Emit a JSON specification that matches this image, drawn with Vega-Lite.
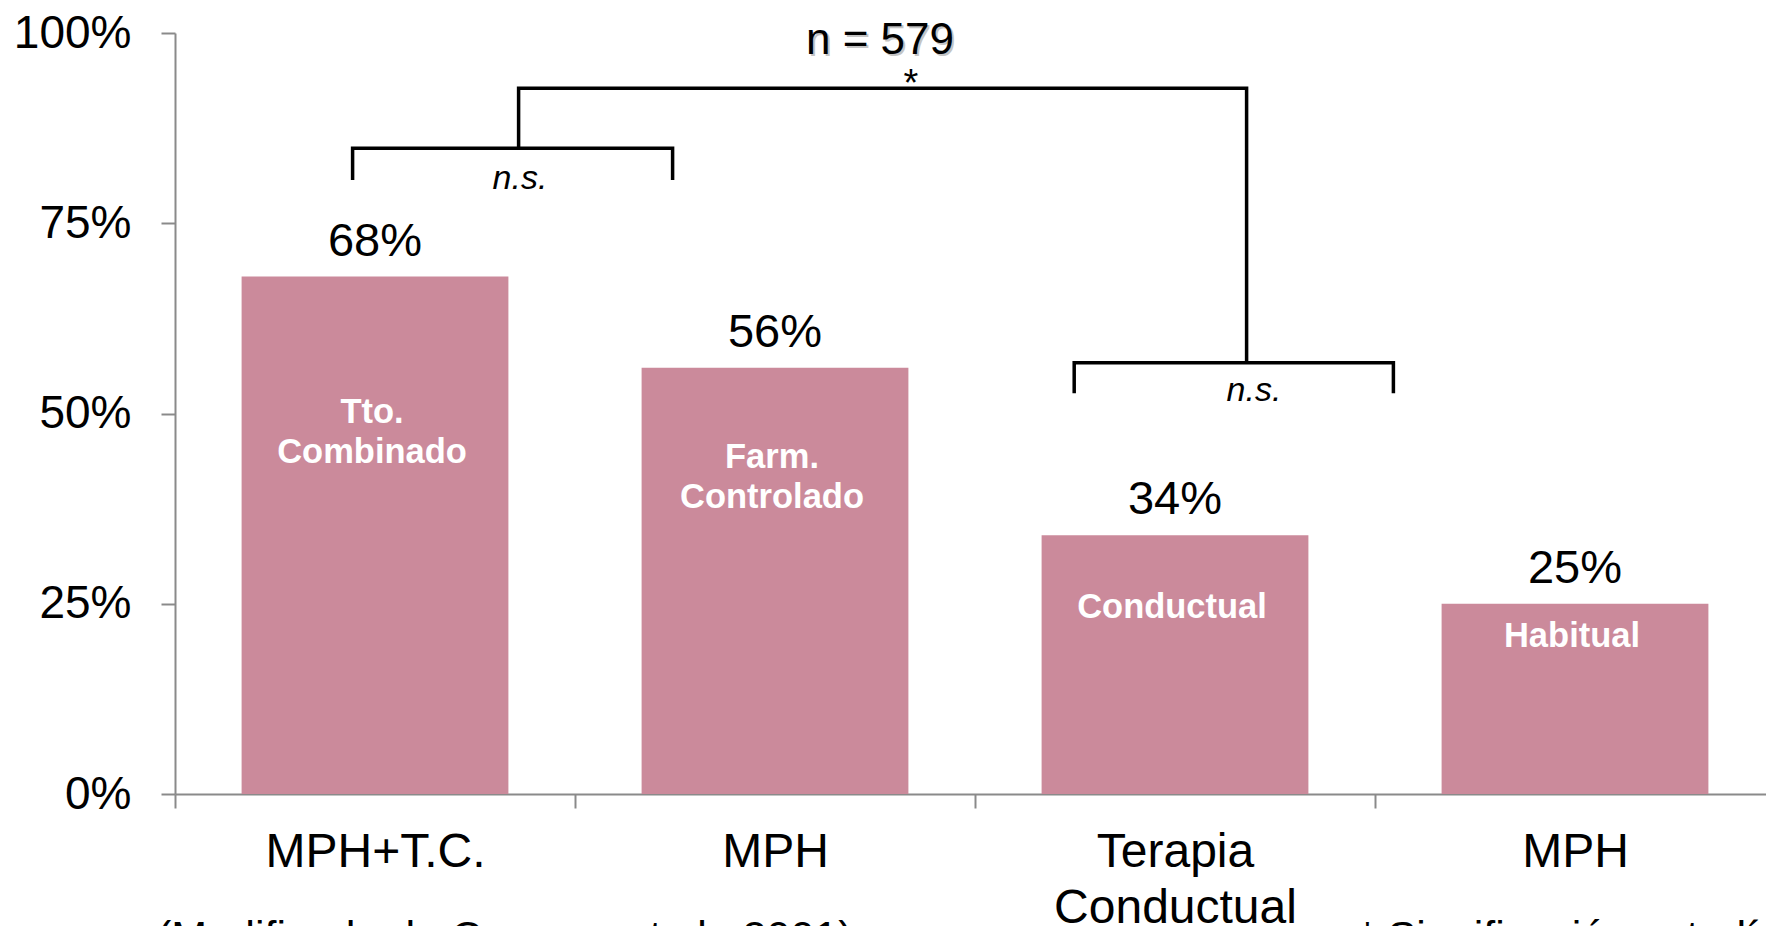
{
  "$schema": "https://vega.github.io/schema/vega-lite/v6.json",
  "width": 1591,
  "height": 761,
  "autosize": {"type": "none"},
  "padding": {"left": 175, "top": 33, "right": 0, "bottom": 132},
  "background": "white",
  "config": {
    "view": {"stroke": null},
    "font": "Liberation Sans",
    "axis": {
      "domainColor": "#8a8a8a",
      "domainWidth": 2,
      "tickColor": "#8a8a8a",
      "tickWidth": 2,
      "tickSize": 14,
      "labelColor": "black",
      "labelFont": "Liberation Sans",
      "labelLimit": 0,
      "grid": false
    },
    "axisY": {"labelFontSize": 46, "labelPadding": 30},
    "axisX": {
      "labelFontSize": 48,
      "labelPadding": 20,
      "labelLineHeight": 56,
      "labelBaseline": "top",
      "labelAngle": 0,
      "tickBand": "extent"
    }
  },
  "datasets": {
    "barras": [
      {"tratamiento": "MPH+T.C.", "rotulo": "Tto.\nCombinado", "respuesta": 0.68, "posicion_rotulo": 0.4875},
      {"tratamiento": "MPH", "rotulo": "Farm.\nControlado", "respuesta": 0.56, "posicion_rotulo": 0.429},
      {"tratamiento": "Terapia Conductual", "rotulo": "Conductual", "respuesta": 0.34, "posicion_rotulo": 0.2313},
      {"tratamiento": "MPH ", "rotulo": "Habitual", "respuesta": 0.25, "posicion_rotulo": 0.1932}
    ],
    "llaves": [
      {"tramo": "izquierda", "paso": 1, "x": 0.444, "y": 0.8068},
      {"tramo": "izquierda", "paso": 2, "x": 0.444, "y": 0.8485},
      {"tramo": "izquierda", "paso": 3, "x": 1.244, "y": 0.8485},
      {"tramo": "izquierda", "paso": 4, "x": 1.244, "y": 0.8068},
      {"tramo": "central", "paso": 1, "x": 0.859, "y": 0.8485},
      {"tramo": "central", "paso": 2, "x": 0.859, "y": 0.9273},
      {"tramo": "central", "paso": 3, "x": 2.679, "y": 0.9273},
      {"tramo": "central", "paso": 4, "x": 2.679, "y": 0.5668},
      {"tramo": "derecha", "paso": 1, "x": 2.248, "y": 0.5265},
      {"tramo": "derecha", "paso": 2, "x": 2.248, "y": 0.5668},
      {"tramo": "derecha", "paso": 3, "x": 3.046, "y": 0.5668},
      {"tramo": "derecha", "paso": 4, "x": 3.046, "y": 0.5265}
    ],
    "anotaciones": [
      {"tipo": "total", "texto": "n = 579", "x": 1.7625, "y": 0.9724},
      {"tipo": "signif", "texto": "*", "x": 1.84, "y": 0.9176},
      {"tipo": "ns", "texto": "n.s.", "x": 0.8625, "y": 0.795},
      {"tipo": "ns", "texto": "n.s.", "x": 2.6975, "y": 0.5164},
      {"tipo": "nota", "texto": "(Modificado de Conners et al., 2001)", "x": -0.045, "y": -0.2063},
      {"tipo": "nota", "texto": "* Significación estadística", "x": 2.96, "y": -0.2063}
    ]
  },
  "resolve": {"scale": {"x": "independent"}, "axis": {"x": "independent"}},
  "layer": [
    {
      "data": {"name": "barras"},
      "encoding": {
        "x": {
          "field": "tratamiento",
          "type": "nominal",
          "sort": null,
          "title": null,
          "scale": {"range": [0, 1600], "paddingInner": 0, "paddingOuter": 0},
          "axis": {"labelExpr": "split(datum.label, ' ')"}
        },
        "y": {
          "field": "respuesta",
          "type": "quantitative",
          "title": null,
          "scale": {"domain": [0, 1]},
          "axis": {"values": [0, 0.25, 0.5, 0.75, 1], "format": ".0%"}
        }
      },
      "layer": [
        {"mark": {"type": "bar", "color": "#CB8A9B", "width": {"band": 0.667}}},
        {
          "mark": {"type": "text", "fontSize": 47, "baseline": "alphabetic", "dy": -21, "color": "black"},
          "encoding": {"text": {"field": "respuesta", "format": ".0%"}}
        },
        {
          "mark": {
            "type": "text",
            "color": "white",
            "fontWeight": "bold",
            "fontSize": 34.5,
            "lineBreak": "\n",
            "lineHeight": 40,
            "baseline": "alphabetic",
            "dx": -3
          },
          "encoding": {
            "y": {"field": "posicion_rotulo", "type": "quantitative", "scale": {"domain": [0, 1]}},
            "text": {"field": "rotulo"}
          }
        }
      ]
    },
    {
      "encoding": {
        "x": {"field": "x", "type": "quantitative", "scale": {"domain": [0, 4], "range": [0, 1600]}, "axis": null},
        "y": {"field": "y", "type": "quantitative", "scale": {"domain": [0, 1]}}
      },
      "layer": [
        {
          "data": {"name": "llaves"},
          "mark": {"type": "line", "color": "black", "strokeWidth": 3.5, "strokeJoin": "miter", "strokeCap": "butt"},
          "encoding": {
            "detail": {"field": "tramo"},
            "order": {"field": "paso"}
          }
        },
        {
          "data": {"name": "anotaciones"},
          "transform": [{"filter": "datum.tipo == 'total'"}],
          "mark": {"type": "text", "fontSize": 44, "baseline": "alphabetic", "color": "#c4c4c4", "dx": 2, "dy": 2},
          "encoding": {"text": {"field": "texto"}}
        },
        {
          "data": {"name": "anotaciones"},
          "transform": [{"filter": "datum.tipo == 'total'"}],
          "mark": {"type": "text", "fontSize": 44, "baseline": "alphabetic", "color": "black"},
          "encoding": {"text": {"field": "texto"}}
        },
        {
          "data": {"name": "anotaciones"},
          "transform": [{"filter": "datum.tipo == 'signif'"}],
          "mark": {"type": "text", "fontSize": 38, "baseline": "alphabetic", "color": "black"},
          "encoding": {"text": {"field": "texto"}}
        },
        {
          "data": {"name": "anotaciones"},
          "transform": [{"filter": "datum.tipo == 'ns'"}],
          "mark": {"type": "text", "fontSize": 34, "fontStyle": "italic", "baseline": "alphabetic", "color": "black"},
          "encoding": {"text": {"field": "texto"}}
        },
        {
          "data": {"name": "anotaciones"},
          "transform": [{"filter": "datum.tipo == 'nota'"}],
          "mark": {"type": "text", "fontSize": 43, "align": "left", "baseline": "alphabetic", "color": "black"},
          "encoding": {"text": {"field": "texto"}}
        }
      ]
    }
  ]
}
